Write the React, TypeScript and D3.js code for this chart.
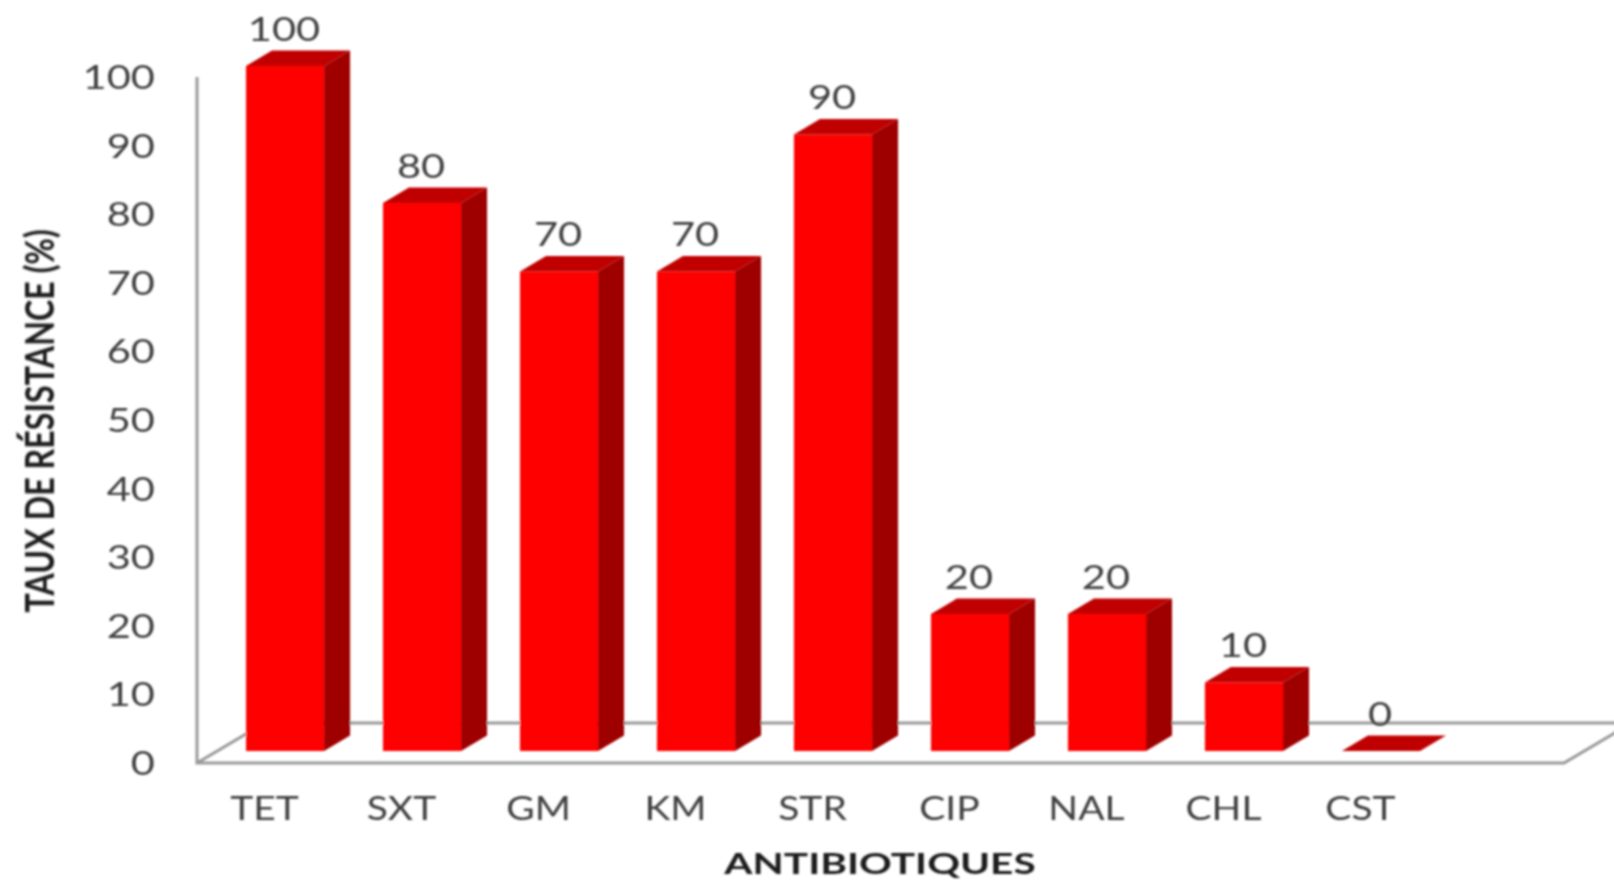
import React from "react";
import * as d3 from "d3";

const categories = ["TET", "SXT", "GM", "KM", "STR", "CIP", "NAL", "CHL", "CST"];
const resistance = [100, 80, 70, 70, 90, 20, 20, 10, 0];
const yTicks = [0, 10, 20, 30, 40, 50, 60, 70, 80, 90, 100];
const yTitle = "TAUX DE RÉSISTANCE (%)";
const xTitle = "ANTIBIOTIQUES";

const W = 1614;
const H = 880;
const DX = 26;
const DY = 15.5;
const FONT = "Lato, 'Open Sans', sans-serif";
const TXT = "#404040";
const GRID = "#999999";

const band = d3.scaleBand<string>().domain(categories).range([246, 1420]).paddingInner(0.43).paddingOuter(0);
const yBar = d3.scaleLinear().domain([0, 100]).range([751, 66]);
const yAxis = d3.scaleLinear().domain([0, 100]).range([763, 77]);

const Label = ({ x, y, children, anchor = "middle", sx = 1.3, size = 32, weight = 400, fill = TXT, rotate = 0 }: any) => (
  <text
    transform={`translate(${x},${y}) rotate(${rotate}) scale(${sx},1)`}
    textAnchor={anchor}
    fontFamily={FONT}
    fontSize={size}
    fontWeight={weight}
    fill={fill}
  >
    {children}
  </text>
);

export default function App() {
  const floorY = yAxis(0);
  const backY = 723;
  const leftX = 197;
  const rightX = 1564;
  const slope = 49 / 29;
  const backDx = (floorY - backY) * slope;
  const bw = band.bandwidth();
  return (
    <svg
      width={W}
      height={H}
      viewBox={`0 0 ${W} ${H}`}
      style={{ position: "absolute", left: 0, top: 0, display: "block", background: "#fff" }}
    >
      <defs>
        <filter id="soft" x="-2%" y="-2%" width="104%" height="104%">
          <feGaussianBlur stdDeviation="0.8" />
        </filter>
      </defs>
      <g filter="url(#soft)">
        <path
          d={`M${leftX},${yAxis(100)}V${floorY}H${rightX}L${rightX + backDx},${backY}H${leftX + backDx}L${leftX},${floorY}`}
          fill="none"
          stroke={GRID}
          strokeWidth={3}
        />
        {yTicks.map((t) => (
          <Label key={t} x={155} y={yAxis(t) + 12} anchor="end">
            {t}
          </Label>
        ))}
        {categories.map((c, i) => {
          const x = band(c) as number;
          const v = resistance[i];
          const top = yBar(v);
          const base = yBar(0);
          return (
            <g key={c}>
              <path d={`M${x + bw},${top}L${x + bw + DX},${top - DY}V${base - DY}L${x + bw},${base}Z`} fill="#9e0000" />
              <rect x={x} y={top} width={bw} height={base - top} fill="#ff0000" />
              <path d={`M${x},${top}L${x + DX},${top - DY}H${x + bw + DX}L${x + bw},${top}Z`} fill="#c00000" />
              <Label x={x + bw / 2 - 1} y={top - DY - 10}>
                {v}
              </Label>
              <Label x={x + bw / 2 - 20.5} y={820} sx={1.22}>
                {c}
              </Label>
            </g>
          );
        })}
        <Label x={880} y={874} size={29} weight={700} sx={1.4} fill="#1f1f1f">
          {xTitle}
        </Label>
        <Label x={54} y={421} size={40} weight={700} sx={0.806} rotate={-90} fill="#1f1f1f">
          {yTitle}
        </Label>
      </g>
    </svg>
  );
}
